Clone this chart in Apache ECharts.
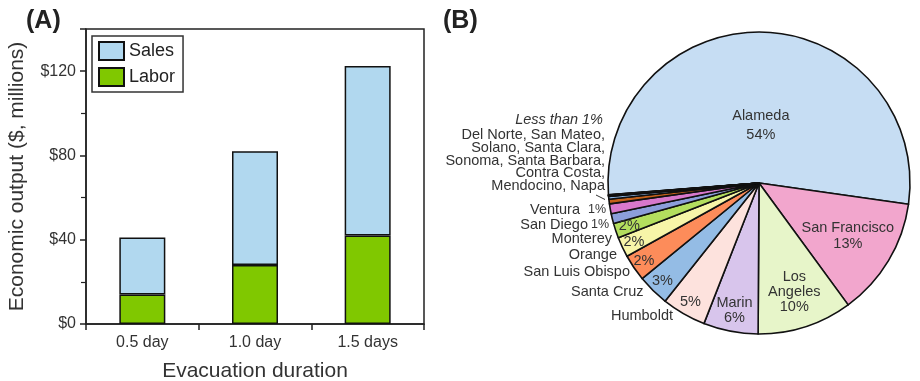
<!DOCTYPE html>
<html><head><meta charset="utf-8">
<script src="https://cdn.jsdelivr.net/npm/echarts@6/dist/echarts.min.js"></script>
<style>html,body{margin:0;padding:0;background:#fff}#c{width:920px;height:381px}</style>
</head><body><div id="c"></div>
<script>
// ---- Panel A data ----
const categories = ['0.5 day', '1.0 day', '1.5 days'];
const laborValues = [14, 28, 42];
const salesValues = [27, 54, 80.5];
const yTickValues = [0, 40, 80, 120];

// ---- Panel B data ----
const countyNames = ['Alameda', 'San Francisco', 'Los Angeles', 'Marin', 'Humboldt', 'Santa Cruz',
  'San Luis Obispo', 'Orange', 'Monterey', 'San Diego', 'Ventura', 'Del Norte', 'San Mateo',
  'Solano', 'Santa Clara', 'Sonoma', 'Santa Barbara', 'Contra Costa', 'Mendocino', 'Napa'];
const countyShares = [53.5, 12.7, 10.15, 5.85, 4.75, 3.4, 2.85, 2.15, 1.6, 1.05, 1.05, 0.5, 0.3,
  0.025, 0.025, 0.025, 0.025, 0.025, 0.025, 0.025];
const countyPctLabels = ['54%', '13%', '10%', '6%', '5%', '3%', '2%', '2%', '2%', '1%', '1%',
  '', '', '', '', '', '', '', '', ''];
const lessThanText = ['Del Norte, San Mateo,', 'Solano, Santa Clara,', 'Sonoma, Santa Barbara,', 'Contra Costa,', 'Mendocino, Napa'];

const countyColors = ['#c6ddf3', '#f2a6cd', '#e7f5c9', '#d8c5ec', '#fde2dd', '#94bce5', '#fd8c5a',
  '#f7f5a8', '#b3de5e', '#8c9edb', '#d878cc', '#c4611a', '#8cb4e2', '#555', '#555', '#555', '#555', '#555', '#555', '#555'];

const FONT = 'Liberation Sans, Arial, sans-serif';
const pieCenter = [759, 183];
const pieR = 151;
const pieStart = 184.45;
// label radius as fraction of radius for inside labels (null = drawn beside the pie)
const insideFrac = [0.38, 0.686, 0.76, 0.86, 0.91, 0.91, 0.92, 0.915, 0.905, null, null];
const insideNames = ['Alameda', 'San Francisco', 'Los\nAngeles', 'Marin', '', '', '', '', ''];
const insideLineH = [19, 16, 15, 15, 15, 15, 15, 15, 15];

const total = countyShares.reduce((a, b) => a + b, 0);
const midAngles = [];
let acc = 0;
countyShares.forEach(v => { midAngles.push(pieStart - (acc + v / 2) / total * 360); acc += v; });

const pieData = countyNames.map((n, i) => {
  const d = { name: n, value: countyShares[i], itemStyle: { color: countyColors[i] } };
  if (i < insideNames.length) {
    const txt = insideNames[i] ? insideNames[i] + '\n' + countyPctLabels[i] : countyPctLabels[i];
    d.label = { show: true, position: 'inside', formatter: txt, lineHeight: insideLineH[i] };
  } else {
    d.label = { show: false };
  }
  return d;
});

const chart = echarts.init(document.getElementById('c'));

// side labels
const sideLabels = [
  { t: 'Ventura', x: 580, y: 210, a: 'right', s: 14.5 },
  { t: countyPctLabels[10], x: 588, y: 210, a: 'left', s: 12.5 },
  { t: 'San Diego', x: 588, y: 224.5, a: 'right', s: 14.5 },
  { t: countyPctLabels[9], x: 591, y: 225, a: 'left', s: 12.5 },
  { t: 'Monterey', x: 612, y: 238.5, a: 'right', s: 14.5 },
  { t: 'Orange', x: 617, y: 254.5, a: 'right', s: 14.5 },
  { t: 'San Luis Obispo', x: 630, y: 272, a: 'right', s: 14.5 },
  { t: 'Santa Cruz', x: 643.5, y: 292, a: 'right', s: 14.5 },
  { t: 'Humboldt', x: 673, y: 316, a: 'right', s: 14.5 }
];
const graphics = sideLabels.map(l => ({
  type: 'text', style: { text: l.t, x: l.x, y: l.y, textAlign: l.a, textVerticalAlign: 'middle',
    fill: '#333', font: l.s + 'px ' + FONT }
}));
graphics.push({ type: 'text', style: { text: 'Less than 1%', x: 603, y: 119.5, textAlign: 'right', textVerticalAlign: 'middle',
  fill: '#333', font: 'italic 14.5px ' + FONT } });
lessThanText.forEach((t, i) => graphics.push({ type: 'text', style: { text: t, x: 605, y: 135 + i * 12.8,
  textAlign: 'right', textVerticalAlign: 'middle', fill: '#333', font: '14.5px ' + FONT } }));
graphics.push({ type: 'line', shape: { x1: 596, y1: 195, x2: 605, y2: 199.5 }, style: { stroke: '#333', lineWidth: 1 } });
graphics.push({ type: 'text', style: { text: '(A)', x: 26, y: 21, textVerticalAlign: 'middle', fill: '#222', font: 'bold 25px ' + FONT } });
graphics.push({ type: 'text', style: { text: '(B)', x: 443, y: 21, textVerticalAlign: 'middle', fill: '#222', font: 'bold 25px ' + FONT } });

chart.setOption({
  animation: false,
  textStyle: { fontFamily: FONT },
  legend: {
    data: ['Sales', 'Labor'], orient: 'vertical', left: 92, top: 36,
    itemWidth: 25, itemHeight: 18, itemGap: 6, padding: [5, 8, 5, 6],
    backgroundColor: '#fff', borderColor: '#333', borderWidth: 1.5, borderRadius: 0,
    textStyle: { fontSize: 18, color: '#222', fontFamily: FONT }, icon: 'rect'
  },
  grid: { left: 86, top: 29, right: 496, bottom: 57, show: true, borderColor: '#222', borderWidth: 1.5,
    backgroundColor: 'transparent', containLabel: false, outerBoundsMode: 'none' },
  xAxis: {
    type: 'category', data: categories,
    axisLine: { lineStyle: { color: '#222', width: 1.5 } },
    axisTick: { show: true, length: 6, lineStyle: { color: '#222', width: 1.5 } },
    axisLabel: { fontSize: 16, color: '#333', margin: 11, fontFamily: FONT },
    name: 'Evacuation duration', nameLocation: 'middle', nameGap: 37,
    nameTextStyle: { fontSize: 21, color: '#333', fontFamily: FONT }
  },
  yAxis: {
    type: 'value', min: 0, max: 140, interval: 40,
    axisLine: { show: true, lineStyle: { color: '#222', width: 1.5 } },
    axisTick: { show: true, length: 6, lineStyle: { color: '#222', width: 1.5 } },
    minorTick: { show: true, splitNumber: 2, length: 5, lineStyle: { color: '#222', width: 1.2 } },
    splitLine: { show: false },
    axisLabel: { fontSize: 16, color: '#333', margin: 10, fontFamily: FONT,
      formatter: v => yTickValues.indexOf(v) >= 0 ? '$' + v : '' },
    name: 'Economic output ($, millions)', nameLocation: 'middle', nameGap: 58,
    nameTextStyle: { fontSize: 21, color: '#333', fontFamily: FONT }
  },
  series: [
    { name: 'Labor', type: 'bar', stack: 'out', data: laborValues, barWidth: 46,
      itemStyle: { color: '#80c800', borderColor: '#111', borderWidth: 1.5 } },
    { name: 'Sales', type: 'bar', stack: 'out', data: salesValues, barWidth: 46,
      itemStyle: { color: '#b1d8ef', borderColor: '#111', borderWidth: 1.5 } },
    { name: 'Counties', type: 'pie', center: pieCenter, radius: pieR, startAngle: pieStart, clockwise: true,
      data: pieData, avoidLabelOverlap: false, minAngle: 0, minShowLabelAngle: 0,
      itemStyle: { borderColor: '#111', borderWidth: 1.6 },
      label: { fontSize: 14.5, color: '#333', fontFamily: FONT },
      labelLine: { show: false },
      emphasis: { disabled: true },
      labelLayout: function (p) {
        const i = p.dataIndex;
        const f = insideFrac[i];
        if (f == null) return {};
        const a = midAngles[i] * Math.PI / 180;
        return { x: pieCenter[0] + pieR * f * Math.cos(a), y: pieCenter[1] - pieR * f * Math.sin(a) };
      }
    }
  ],
  graphic: graphics
});
</script></body></html>
